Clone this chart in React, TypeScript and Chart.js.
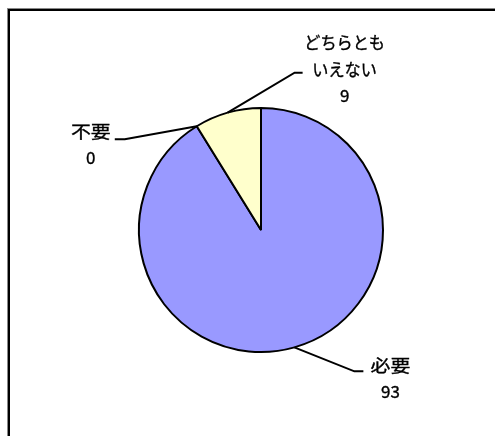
import React, { useEffect, useRef } from "react";
import { Chart, registerables } from "chart.js";

Chart.register(...registerables);

const categories = ["必要", "不要", "どちらともいえない"];
const labelLines = [["必要"], ["不要"], ["どちらとも", "いえない"]];
const values = [93, 0, 9];
const colors = ["#9999FF", "#FFFFCC", "#FFFFCC"];

// leader line layout, relative to the arc point at each slice's mid angle
const labelLayout = [
  { elbowDx: 60, elbowDy: 24, endDx: 9, textDx: 27, textDy: -6 },
  { elbowDx: -72, elbowDy: 13, endDx: -10, textDx: -24, textDy: -8 },
  { elbowDx: 67, elbowDy: -40, endDx: 8, textDx: 42, textDy: -30 },
];

const FONT = '17px "Noto Sans CJK JP", "Noto Sans", sans-serif';
const LINE_H = 26.5;

function widthScale(t: string) {
  if (/^[0-9]+$/.test(t)) return 1.0;
  if (/^[\u4e00-\u9fff]+$/.test(t)) return 1.17;
  return 0.95;
}

const labelPlugin = {
  id: "leaderLabels",
  beforeDraw(chart: any) {
    const ctx = chart.ctx;
    ctx.save();
    ctx.fillStyle = "#000";
    ctx.fillRect(8, 9, 495, 2);
    ctx.fillRect(8, 9, 2, 436);
    ctx.fillStyle = "#888";
    ctx.fillRect(8, 8, 495, 1);
    ctx.fillRect(7, 8, 1, 436);
    ctx.restore();
  },
  afterDraw(chart: any) {
    const ctx = chart.ctx;
    const meta = chart.getDatasetMeta(0);
    ctx.save();
    meta.data.forEach((arc: any, i: number) => {
      const { x, y, startAngle, endAngle, outerRadius } = arc.getProps(
        ["x", "y", "startAngle", "endAngle", "outerRadius"],
        true
      );
      const mid = (startAngle + endAngle) / 2;
      const ax = x + outerRadius * Math.cos(mid);
      const ay = y + outerRadius * Math.sin(mid);
      const L = labelLayout[i];
      const ex = ax + L.elbowDx;
      const ey = ay + L.elbowDy;
      const hx = ex + L.endDx;
      ctx.strokeStyle = "#000";
      ctx.lineWidth = 2;
      ctx.beginPath();
      ctx.moveTo(ax, ay);
      ctx.lineTo(ex, ey);
      ctx.lineTo(hx, ey);
      ctx.stroke();
      ctx.fillStyle = "#000";
      ctx.strokeStyle = "#000";
      ctx.lineWidth = 0.35;
      ctx.font = FONT;
      ctx.textAlign = "center";
      ctx.textBaseline = "middle";
      const tx = hx + L.textDx;
      let ty = ey + L.textDy;
      const lines = [...labelLines[i], String(values[i])];
      lines.forEach((t) => {
        const s = widthScale(t);
        ctx.save();
        ctx.translate(tx, ty);
        ctx.scale(s, 1);
        ctx.fillText(t, 0, 0);
        ctx.strokeText(t, 0, 0);
        ctx.restore();
        ty += LINE_H;
      });
    });
    ctx.restore();
  },
};

export default function App() {
  const ref = useRef<HTMLCanvasElement>(null);
  useEffect(() => {
    if (!ref.current) return;
    const chart = new Chart(ref.current, {
      type: "pie",
      data: {
        labels: categories,
        datasets: [
          {
            data: values,
            backgroundColor: colors,
            borderColor: "#000",
            borderWidth: 2,
          },
        ],
      },
      options: {
        animation: false,
        responsive: false,
        layout: { padding: { left: 138, right: 111, top: 107, bottom: 83 } },
        plugins: {
          legend: { display: false },
          tooltip: { enabled: false },
        },
      },
      plugins: [labelPlugin],
    });
    return () => chart.destroy();
  }, []);
  return (
    <div style={{ position: "fixed", left: 0, top: 0, width: 495, height: 436, background: "#fff" }}>
      <canvas ref={ref} width={495} height={436} style={{ display: "block" }} />
    </div>
  );
}
